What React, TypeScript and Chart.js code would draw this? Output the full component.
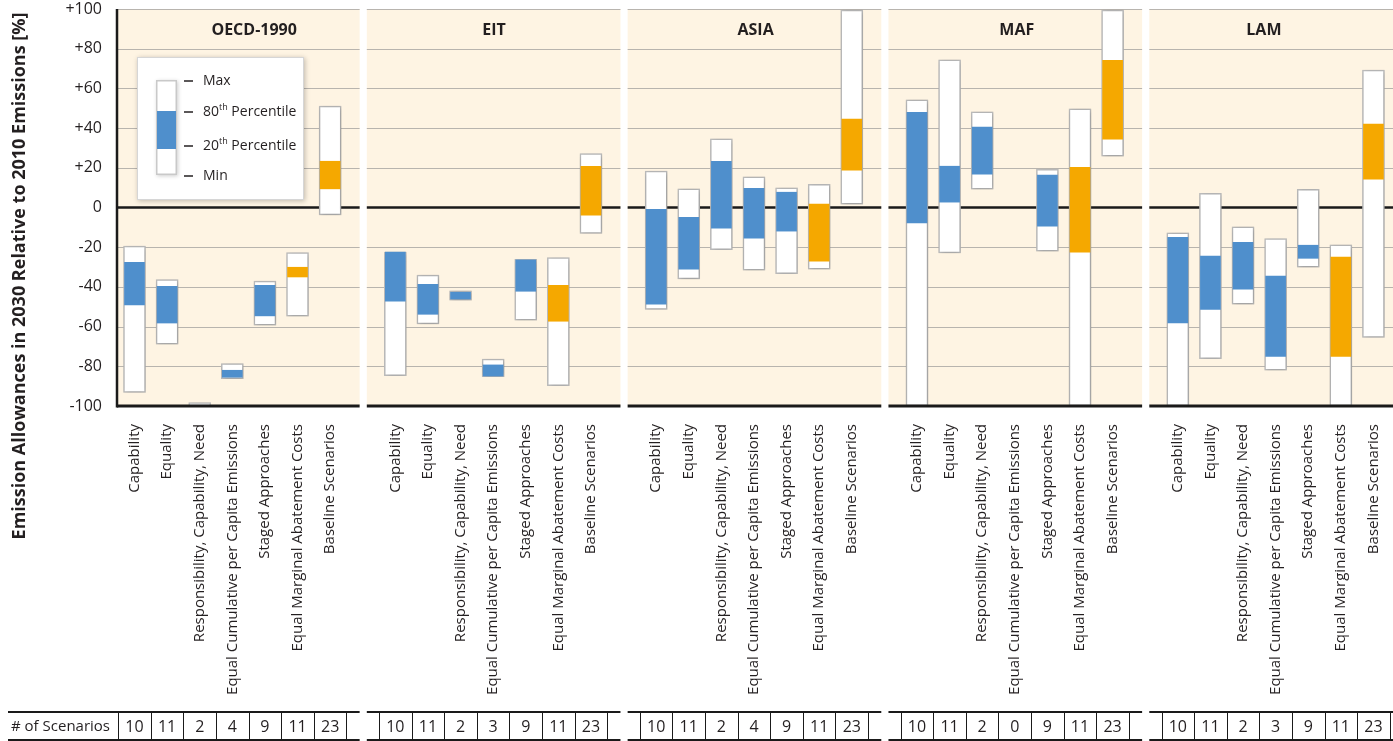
import React, { useEffect, useRef } from 'react';
import { Chart, registerables } from 'chart.js';

Chart.register(...registerables);

// ---------------- Data ----------------
const regions = ['OECD-1990', 'EIT', 'ASIA', 'MAF', 'LAM'];

const categories = [
  'Capability',
  'Equality',
  'Responsibility, Capability, Need',
  'Equal Cumulative per Capita Emissions',
  'Staged Approaches',
  'Equal Marginal Abatement Costs',
  'Baseline Scenarios',
];

// one row per region, one value per category (null = no scenarios)
const maxValues = [
  [-19.4, -36.3, -98.3, -78.6, -37.1, -22.7, 51.1],
  [-22.4, -34.1, -42.0, -76.3, -26.1, -25.2, 27.2],
  [18.4, 9.4, 34.6, 15.4, 9.9, 11.7, 99.5],
  [54.2, 74.4, 48.2, null, 19.2, 49.7, 99.5],
  [-12.8, 7.2, -9.8, -15.6, 9.2, -18.8, 69.2],
];
const p80Values = [
  [-27.6, -39.7, -100, -82.0, -39.2, -30.1, 23.3],
  [-22.4, -38.7, -42.7, -79.3, -26.4, -39.2, 20.8],
  [-0.9, -4.9, 23.3, 9.7, 7.7, 1.7, 44.5],
  [47.9, 20.8, 40.5, null, 16.3, 20.2, 74.2],
  [-15.0, -24.5, -17.5, -34.6, -19.0, -25.0, 42.0],
];
const p20Values = [
  [-49.1, -58.2, -100, -85.5, -54.6, -35.0, 9.4],
  [-47.2, -53.8, -46.1, -84.9, -42.2, -57.3, -3.9],
  [-48.7, -31.1, -10.4, -15.5, -11.9, -27.1, 18.8],
  [-7.8, 2.7, 16.8, null, -9.4, -22.5, 34.4],
  [-58.2, -51.3, -41.2, -75.0, -25.6, -75.0, 14.3],
];
const minValues = [
  [-93.1, -68.9, -100, -86.2, -59.3, -54.8, -3.7],
  [-84.7, -58.7, -46.7, -85.2, -56.8, -89.7, -13.0],
  [-51.3, -36.0, -21.2, -31.6, -33.3, -31.1, 1.7],
  [-100, -22.9, 9.2, null, -22.0, -100, 25.9],
  [-100, -76.1, -48.7, -82.0, -30.0, -100, -65.5],
];
const scenarioCounts = [
  [10, 11, 2, 4, 9, 11, 23],
  [10, 11, 2, 3, 9, 11, 23],
  [10, 11, 2, 4, 9, 11, 23],
  [10, 11, 2, 0, 9, 11, 23],
  [10, 11, 2, 3, 9, 11, 23],
];
const yTickValues = [-100, -80, -60, -40, -20, 0, 20, 40, 60, 80, 100];

const yTitle = 'Emission Allowances in 2030 Relative to 2010 Emissions [%]';
const tableLabel = '# of Scenarios';

// ---------------- Layout / style ----------------
const PANEL_STRIDE = 8; // x units between panels (7 categories + gap)
const PANEL_LEFT = -0.875;
const PANEL_RIGHT = 6.905;
const TITLE_POS = [3.67, 3.03, 3.05, 3.06, 2.64];
const FONT = '"Open Sans", "DejaVu Sans", sans-serif';
const TEXT = '#231f20';
const BLUE = '#4f8fcc';
const ORANGE = '#f5a800';
const PANEL_BG = '#fef4e3';

function buildPoints(lo: (number | null)[][], hi: (number | null)[][]) {
  const pts: { x: number; y: [number, number] }[] = [];
  const colors: string[] = [];
  regions.forEach((_, p) => {
    categories.forEach((__, c) => {
      const a = lo[p][c];
      const b = hi[p][c];
      if (a === null || b === null) return;
      pts.push({ x: p * PANEL_STRIDE + c, y: [a, b] });
      colors.push(c >= 5 ? ORANGE : BLUE);
    });
  });
  return { pts, colors };
}

const panelsPlugin = {
  id: 'panels',
  beforeDatasetsDraw(chart: any) {
    const { ctx, chartArea: ca, scales } = chart;
    const xs = scales.x;
    const ys = scales.y;
    ctx.save();
    regions.forEach((name, p) => {
      const l = Math.max(ca.left, xs.getPixelForValue(p * PANEL_STRIDE + PANEL_LEFT));
      const r = Math.min(ca.right, xs.getPixelForValue(p * PANEL_STRIDE + PANEL_RIGHT));
      ctx.fillStyle = PANEL_BG;
      ctx.fillRect(l, ca.top, r - l, ca.bottom - ca.top);
      yTickValues.forEach((v) => {
        if (v === -100) return;
        const py = ys.getPixelForValue(v);
        ctx.beginPath();
        if (v === 0) {
          ctx.strokeStyle = '#1a1a1a';
          ctx.lineWidth = 2.5;
          ctx.moveTo(l, py);
          ctx.lineTo(r, py);
        } else {
          ctx.strokeStyle = '#b8b4ae';
          ctx.lineWidth = 1;
          const yy = Math.round(py) + 0.5;
          ctx.moveTo(l, yy);
          ctx.lineTo(r, yy);
        }
        ctx.stroke();
      });
      ctx.fillStyle = TEXT;
      ctx.font = `bold 16px ${FONT}`;
      ctx.textAlign = 'center';
      ctx.textBaseline = 'middle';
      ctx.fillText(name, xs.getPixelForValue(p * PANEL_STRIDE + TITLE_POS[p]), ca.top + 21);
    });
    ctx.restore();
  },
  beforeDatasetDraw(chart: any, args: any) {
    if (args.index === 1) {
      const ctx = chart.ctx;
      ctx.save();
      ctx.shadowColor = 'rgba(0,0,0,0.22)';
      ctx.shadowBlur = 5;
      ctx.shadowOffsetX = 1;
      ctx.shadowOffsetY = 1;
    }
  },
  afterDatasetDraw(chart: any, args: any) {
    if (args.index === 1) chart.ctx.restore();
  },
  afterDatasetsDraw(chart: any) {
    const { ctx, chartArea: ca, scales } = chart;
    const xs = scales.x;
    const ys = scales.y;
    ctx.save();
    // bottom lines per panel
    const pyBottom = ys.getPixelForValue(-100);
    regions.forEach((_, p) => {
      const l = Math.max(ca.left, xs.getPixelForValue(p * PANEL_STRIDE + PANEL_LEFT));
      const r = Math.min(ca.right, xs.getPixelForValue(p * PANEL_STRIDE + PANEL_RIGHT));
      ctx.beginPath();
      ctx.strokeStyle = '#1a1a1a';
      ctx.lineWidth = 3;
      ctx.moveTo(l, pyBottom);
      ctx.lineTo(r, pyBottom);
      ctx.stroke();
    });
    // left axis line
    ctx.beginPath();
    ctx.strokeStyle = '#1a1a1a';
    ctx.lineWidth = 2.5;
    ctx.moveTo(ca.left, ca.top);
    ctx.lineTo(ca.left, pyBottom + 1.5);
    ctx.stroke();

    // legend
    const bx = ca.left + 20;
    const by = ca.top + 48;
    ctx.save();
    ctx.shadowColor = 'rgba(0,0,0,0.25)';
    ctx.shadowBlur = 5;
    ctx.shadowOffsetX = 1;
    ctx.shadowOffsetY = 1;
    ctx.fillStyle = '#ffffff';
    ctx.fillRect(bx, by, 167, 143);
    ctx.restore();
    ctx.strokeStyle = '#d6d6d6';
    ctx.lineWidth = 1;
    ctx.strokeRect(bx + 0.5, by + 0.5, 166, 142);

    const lx = bx + 19;
    const ly = by + 23;
    ctx.save();
    ctx.shadowColor = 'rgba(0,0,0,0.2)';
    ctx.shadowBlur = 4;
    ctx.shadowOffsetX = 1;
    ctx.shadowOffsetY = 1;
    ctx.fillStyle = '#c9c9c9';
    ctx.fillRect(lx, ly, 21, 95);
    ctx.restore();
    ctx.fillStyle = '#ffffff';
    ctx.fillRect(lx + 1.5, ly + 1.5, 18, 92);
    ctx.fillStyle = BLUE;
    ctx.fillRect(lx + 1, ly + 31, 19, 38);

    const rows = [ly + 1, ly + 32, ly + 66, ly + 96];
    ctx.strokeStyle = TEXT;
    ctx.lineWidth = 1.5;
    rows.forEach((ry) => {
      ctx.beginPath();
      ctx.moveTo(lx + 28, ry);
      ctx.lineTo(lx + 37, ry);
      ctx.stroke();
    });
    ctx.fillStyle = TEXT;
    ctx.textBaseline = 'middle';
    ctx.textAlign = 'left';
    const tx = lx + 47;
    const drawPct = (num: string, ry: number) => {
      ctx.font = `14px ${FONT}`;
      ctx.fillText(num, tx, ry);
      let w = ctx.measureText(num).width;
      ctx.font = `9px ${FONT}`;
      ctx.fillText('th', tx + w, ry - 5);
      w += ctx.measureText('th').width;
      ctx.font = `14px ${FONT}`;
      ctx.fillText(' Percentile', tx + w, ry);
    };
    ctx.font = `14px ${FONT}`;
    ctx.fillText('Max', tx, rows[0]);
    drawPct('80', rows[1]);
    drawPct('20', rows[2]);
    ctx.font = `14px ${FONT}`;
    ctx.fillText('Min', tx, rows[3]);
    ctx.restore();
  },
  afterDraw(chart: any) {
    const { ctx, scales } = chart;
    const xs = scales.x;
    ctx.save();
    // y title
    ctx.translate(20, 276);
    ctx.rotate(-Math.PI / 2);
    ctx.fillStyle = TEXT;
    ctx.font = `bold 18px ${FONT}`;
    ctx.textAlign = 'center';
    ctx.textBaseline = 'middle';
    ctx.fillText(yTitle, 0, 0, 528);
    ctx.restore();

    // table
    const top = 712;
    const bottom = 740;
    const mid = (top + bottom) / 2 + 1;
    ctx.save();
    ctx.fillStyle = TEXT;
    ctx.font = `15px ${FONT}`;
    ctx.textBaseline = 'middle';
    ctx.textAlign = 'left';
    ctx.fillText(tableLabel, 11, mid, 99);
    regions.forEach((_, p) => {
      const l = p === 0 ? 8 : xs.getPixelForValue(p * PANEL_STRIDE + PANEL_LEFT);
      const r = Math.min(chart.width, xs.getPixelForValue(p * PANEL_STRIDE + PANEL_RIGHT));
      ctx.strokeStyle = '#1a1a1a';
      ctx.lineWidth = 2;
      ctx.beginPath();
      ctx.moveTo(l, top);
      ctx.lineTo(r, top);
      ctx.moveTo(l, bottom);
      ctx.lineTo(r, bottom);
      ctx.stroke();
      ctx.lineWidth = 1;
      for (let c = 0; c <= categories.length; c++) {
        const vx = Math.round(xs.getPixelForValue(p * PANEL_STRIDE + c - 0.5)) + 0.5;
        ctx.beginPath();
        ctx.moveTo(vx, top);
        ctx.lineTo(vx, bottom);
        ctx.stroke();
      }
      ctx.font = `16px ${FONT}`;
      ctx.textAlign = 'center';
      scenarioCounts[p].forEach((n, c) => {
        ctx.fillText(String(n), xs.getPixelForValue(p * PANEL_STRIDE + c), mid);
      });
      ctx.textAlign = 'left';
    });
    ctx.restore();
  },
};

export default function App() {
  const canvasRef = useRef<HTMLCanvasElement | null>(null);

  useEffect(() => {
    document.body.style.margin = '0';
    const canvas = canvasRef.current;
    if (!canvas) return;

    const pct = buildPoints(p20Values, p80Values);
    const rng = buildPoints(minValues, maxValues);
    const tickPositions: number[] = [];
    regions.forEach((_, p) => categories.forEach((__, c) => tickPositions.push(p * PANEL_STRIDE + c)));

    const chart = new Chart(canvas, {
      type: 'bar',
      data: {
        datasets: [
          {
            label: '20th-80th percentile',
            data: pct.pts as any,
            backgroundColor: pct.colors,
            borderWidth: 0,
            barThickness: 20,
            grouped: false,
            order: 1,
            clip: 0,
          } as any,
          {
            label: 'Min-Max',
            data: rng.pts as any,
            backgroundColor: '#ffffff',
            borderColor: '#bdbdbd',
            borderWidth: 1.5,
            borderSkipped: false,
            barThickness: 22,
            grouped: false,
            order: 2,
            clip: 0,
          } as any,
        ],
      },
      options: {
        animation: false,
        responsive: false,
        events: [],
        layout: { padding: { top: 9, left: 0, right: 0, bottom: 0 } },
        plugins: { legend: { display: false }, tooltip: { enabled: false }, title: { display: false } },
        scales: {
          x: {
            type: 'linear',
            offset: false,
            min: -0.537,
            max: 38.6,
            grid: { display: false, drawTicks: false, offset: false },
            border: { display: false },
            afterBuildTicks: (scale: any) => {
              scale.ticks = tickPositions.map((v) => ({ value: v }));
            },
            afterFit: (scale: any) => {
              scale.height = 335;
              scale.paddingLeft = 0;
              scale.paddingRight = 0;
            },
            ticks: {
              autoSkip: false,
              minRotation: 90,
              maxRotation: 90,
              padding: 18,
              color: TEXT,
              font: { family: FONT, size: 15 },
              callback: (v: any) => {
                const i = Math.round(Number(v));
                const c = ((i % PANEL_STRIDE) + PANEL_STRIDE) % PANEL_STRIDE;
                return c < categories.length ? categories[c] : '';
              },
            },
          },
          y: {
            min: -100,
            max: 100,
            grid: { display: false, drawTicks: false },
            border: { display: false },
            afterBuildTicks: (scale: any) => {
              scale.ticks = yTickValues.map((v) => ({ value: v }));
            },
            afterFit: (scale: any) => {
              scale.width = 117;
              scale.paddingTop = 0;
              scale.paddingBottom = 0;
            },
            ticks: {
              padding: 15,
              color: TEXT,
              font: { family: FONT, size: 16 },
              callback: (v: any) => (Number(v) > 0 ? '+' + v : String(v)),
            },
          },
        },
      },
      plugins: [panelsPlugin],
    } as any);

    return () => chart.destroy();
  }, []);

  return (
    <div style={{ position: 'absolute', left: 0, top: 0, width: 1393, height: 741, background: '#ffffff' }}>
      <canvas ref={canvasRef} width={1393} height={741} style={{ display: 'block' }} />
    </div>
  );
}
